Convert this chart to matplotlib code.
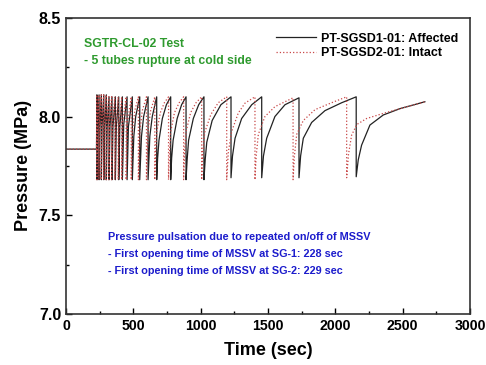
import matplotlib
matplotlib.use('Agg')
import matplotlib.pyplot as plt
from matplotlib.ticker import MultipleLocator

plt.rcParams['font.family'] = ['Liberation Sans', 'DejaVu Sans']
plt.rcParams['font.weight'] = 'bold'

# --------------------------------------------------------------------------------
# DATA
# --------------------------------------------------------------------------------
# PT-SGSD1-01: Affected (solid black)
sg1_time = [0, 226, 229, 230,
            235, 245, 245, 250, 262, 262, 267, 280, 280, 286, 299, 299,
            305, 319, 319, 326, 341, 341, 348, 366, 366, 373, 391, 391,
            399, 418, 418, 428, 453, 453, 463, 492, 492,
            503, 517, 547, 547, 560, 576, 609, 609, 622, 640, 673, 673,
            680, 690, 715, 745, 777, 777, 784, 795, 825, 858, 891, 891,
            899, 910, 945, 985, 1024, 1024,
            1033, 1045, 1085, 1150, 1225, 1225,
            1236, 1255, 1304, 1379, 1453, 1453,
            1466, 1490, 1551, 1626, 1730, 1730,
            1742, 1762, 1824, 1923, 2047, 2155, 2155,
            2170, 2195, 2257, 2356, 2480, 2665]
sg1_press = [7.835, 7.835, 8.11, 7.68,
             7.95, 8.11, 7.68, 7.95, 8.11, 7.68, 7.95, 8.11, 7.68, 7.95, 8.11, 7.68,
             7.95, 8.10, 7.68, 7.95, 8.10, 7.68, 7.95, 8.10, 7.68, 7.95, 8.10, 7.68,
             7.95, 8.10, 7.68, 7.96, 8.10, 7.68, 7.95, 8.10, 7.68,
             7.90, 8.00, 8.10, 7.68, 7.90, 8.00, 8.10, 7.68, 7.90, 8.00, 8.10, 7.68,
             7.79, 7.88, 7.99, 8.06, 8.10, 7.68, 7.79, 7.88, 7.99, 8.06, 8.10, 7.68,
             7.78, 7.88, 7.99, 8.06, 8.10, 7.68,
             7.78, 7.87, 7.98, 8.06, 8.10, 7.69,
             7.80, 7.89, 7.99, 8.06, 8.10, 7.69,
             7.80, 7.89, 8.00, 8.06, 8.095, 7.69,
             7.80, 7.89, 7.97, 8.03, 8.07, 8.10, 7.695,
             7.78, 7.855, 7.957, 8.008, 8.04, 8.075]

# PT-SGSD2-01: Intact (dotted red)
sg2_time = [0, 226, 228, 229,
            233, 244, 244, 248, 261, 261, 266, 279, 279, 284, 297, 297,
            303, 317, 317, 323, 338, 338, 345, 362, 362, 369, 387, 387,
            395, 413, 413, 422, 446, 446, 456, 484, 484,
            494, 510, 537, 537, 549, 566, 597, 597, 609, 628, 659, 659,
            665, 673, 700, 730, 761, 761, 768, 776, 805, 840, 873, 873,
            880, 890, 925, 965, 1007, 1007,
            1015, 1030, 1075, 1130, 1193, 1193,
            1205, 1230, 1279, 1329, 1403, 1403,
            1412, 1428, 1477, 1551, 1686, 1686,
            1696, 1713, 1762, 1849, 1972, 2084, 2084,
            2098, 2121, 2160, 2232, 2356, 2480, 2665]
sg2_press = [7.835, 7.835, 8.11, 7.68,
             7.97, 8.11, 7.68, 7.97, 8.11, 7.68, 7.97, 8.11, 7.68, 7.97, 8.11, 7.68,
             7.97, 8.10, 7.68, 7.97, 8.10, 7.68, 7.97, 8.10, 7.68, 7.97, 8.10, 7.68,
             7.97, 8.10, 7.68, 7.98, 8.10, 7.68, 7.97, 8.10, 7.68,
             7.93, 8.03, 8.10, 7.68, 7.93, 8.03, 8.10, 7.68, 7.93, 8.03, 8.10, 7.68,
             7.82, 7.92, 8.02, 8.07, 8.10, 7.68, 7.82, 7.92, 8.02, 8.07, 8.10, 7.68,
             7.82, 7.92, 8.02, 8.07, 8.10, 7.68,
             7.82, 7.92, 8.01, 8.07, 8.10, 7.68,
             7.82, 7.925, 8.018, 8.068, 8.10, 7.68,
             7.80, 7.91, 8.00, 8.05, 8.095, 7.68,
             7.80, 7.91, 7.98, 8.035, 8.07, 8.10, 7.69,
             7.81, 7.906, 7.96, 7.99, 8.016, 8.04, 8.075]

title_lines = ['SGTR-CL-02 Test', '- 5 tubes rupture at cold side']
note_lines = ['Pressure pulsation due to repeated on/off of MSSV',
              '- First opening time of MSSV at SG-1: 228 sec',
              '- First opening time of MSSV at SG-2: 229 sec']

# --------------------------------------------------------------------------------
# PLOT
# --------------------------------------------------------------------------------
fig = plt.figure(figsize=(4.86, 3.65), dpi=100)
ax = fig.add_axes([0.136, 0.140, 0.831, 0.811])

ax.plot(sg1_time, sg1_press, color='#222222', linewidth=0.9,
        label='PT-SGSD1-01: Affected')
ax.plot(sg2_time, sg2_press, color='#c84848', linewidth=0.9, linestyle=':',
        label='PT-SGSD2-01: Intact')

ax.set_xlim(0, 3000)
ax.set_ylim(7.0, 8.5)
ax.xaxis.set_major_locator(MultipleLocator(500))
ax.xaxis.set_minor_locator(MultipleLocator(250))
ax.yaxis.set_major_locator(MultipleLocator(0.5))
ax.yaxis.set_minor_locator(MultipleLocator(0.25))
ax.yaxis.set_major_formatter(plt.FormatStrFormatter('%.1f'))
ax.tick_params(which='both', direction='in', width=1.0)
ax.tick_params(axis='y', labelsize=11.5)
ax.tick_params(axis='x', labelsize=10.2)
ax.tick_params(which='major', length=4)
ax.tick_params(which='minor', length=2)
for lab in ax.get_xticklabels() + ax.get_yticklabels():
    lab.set_fontweight('bold')
for s in ax.spines.values():
    s.set_linewidth(1.2)
    s.set_color('#333333')

ax.set_xlabel('Time (sec)', fontsize=13, fontweight='bold', labelpad=7)
ax.set_ylabel('Pressure (MPa)', fontsize=13, fontweight='bold', labelpad=5)

ax.text(130, 8.37, title_lines[0], color='#2e9a2e', fontsize=8.8, fontweight='bold', va='center')
ax.text(130, 8.28, title_lines[1], color='#2e9a2e', fontsize=8.8, fontweight='bold', va='center')

for i, line in enumerate(note_lines):
    ax.text(310, 7.39 - i * 0.087, line, color='#1c1ccc', fontsize=7.8,
            fontweight='bold', va='center')

leg = ax.legend(loc='upper right', bbox_to_anchor=(0.99, 0.975), frameon=False,
                fontsize=9, handlelength=3.2, handletextpad=0.4,
                labelspacing=0.2, borderaxespad=0.2)
for t in leg.get_texts():
    t.set_fontweight('bold')

plt.savefig('out.png', dpi=100)
